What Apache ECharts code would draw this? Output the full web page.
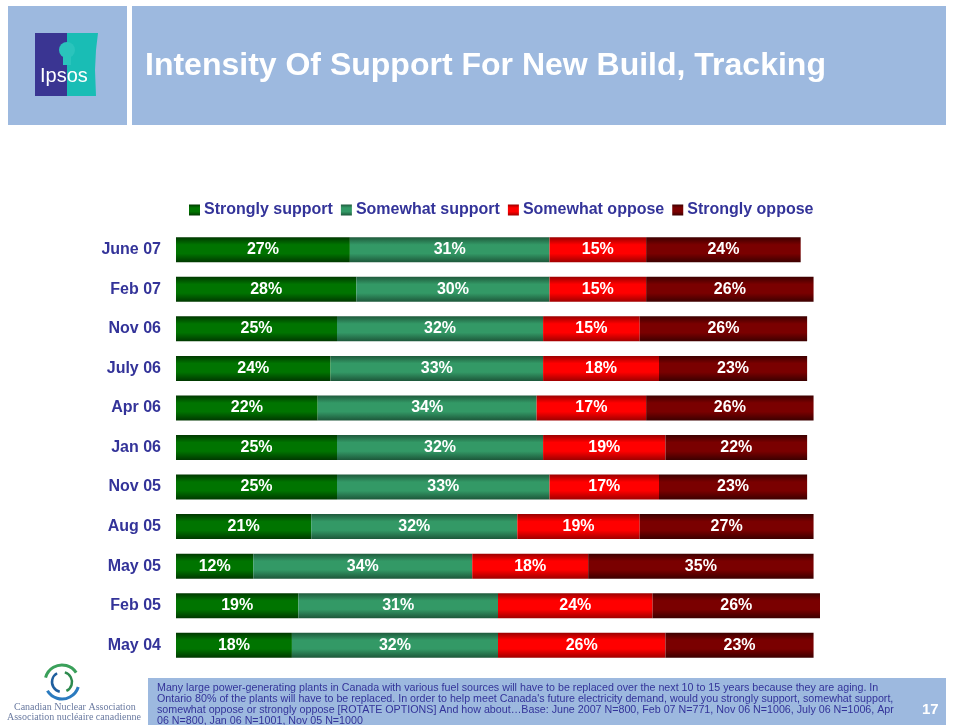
<!DOCTYPE html>
<html>
<head>
<meta charset="utf-8">
<script src="https://cdn.jsdelivr.net/npm/echarts@6/dist/echarts.min.js"></script>
<style>
  html, body { margin: 0; padding: 0; background: #fff; }
  #chart { width: 954px; height: 725px; }
</style>
</head>
<body>
<div id="chart"></div>
<script>
// survey waves, newest first
const waves = ['June 07', 'Feb 07', 'Nov 06', 'July 06', 'Apr 06', 'Jan 06', 'Nov 05', 'Aug 05', 'May 05', 'Feb 05', 'May 04'];
const stronglySupport = [27, 28, 25, 24, 22, 25, 25, 21, 12, 19, 18];
const somewhatSupport = [31, 30, 32, 33, 34, 32, 33, 32, 34, 31, 32];
const somewhatOppose = [15, 15, 15, 18, 17, 19, 17, 19, 18, 24, 26];
const stronglyOppose = [24, 26, 26, 23, 26, 22, 23, 27, 35, 26, 23];

const seriesNames = ['Strongly support', 'Somewhat support', 'Somewhat oppose', 'Strongly oppose'];

const footnote = [
  'Many large power-generating plants in Canada with various fuel sources will have to be replaced over the next 10 to 15 years because they are aging. In',
  'Ontario 80% of the plants will have to be replaced. In order to help meet Canada\'s future electricity demand, would you strongly support, somewhat support,',
  'somewhat oppose or strongly oppose [ROTATE OPTIONS] And how about\u2026Base: June 2007 N=800, Feb 07 N=771, Nov 06 N=1006, July 06 N=1006, Apr',
  '06 N=800, Jan 06 N=1001, Nov 05 N=1000'
];

const headerBlue = '#9DB9DF';
const textBlue = '#333399';
const font = '"Liberation Sans", Arial, sans-serif';

// vertical shading like the old PowerPoint bars
function shade(edgeTop, mid, edgeBottom) {
  return new echarts.graphic.LinearGradient(0, 0, 0, 1, [
    { offset: 0, color: edgeTop },
    { offset: 0.3, color: mid },
    { offset: 0.65, color: mid },
    { offset: 1, color: edgeBottom }
  ]);
}

const fills = [
  shade('#003800', '#007400', '#003800'),
  shade('#1f5a3c', '#339966', '#1d573a'),
  shade('#9a0000', '#ff0000', '#a00000'),
  shade('#3c0000', '#7a0000', '#3c0000')
];
const legendColors = ['#007000', '#2f8a5c', '#ee0000', '#700000'];

function makeSeries(name, values, i) {
  return {
    name: name,
    type: 'bar',
    stack: 'all',
    barWidth: 25,
    data: values,
    itemStyle: { color: fills[i] },
    label: {
      show: true,
      position: 'inside',
      formatter: '{c}%',
      color: '#fff',
      fontWeight: 'bold',
      fontSize: 16,
      fontFamily: font
    },
    emphasis: { disabled: true }
  };
}

const chart = echarts.init(document.getElementById('chart'));

const option = {
  animation: false,
  backgroundColor: '#fff',
  color: legendColors,
  legend: {
    top: 197,
    left: 184,
    itemWidth: 11,
    itemHeight: 11,
    itemGap: 8,
    icon: 'rect',
    textStyle: { color: textBlue, fontWeight: 'bold', fontSize: 16, fontFamily: font, padding: [0, 0, 0, -1] },
    data: seriesNames
  },
  grid: { left: 176, right: 134, top: 230, height: 435 },
  xAxis: { type: 'value', min: 0, max: 100, show: false },
  yAxis: {
    type: 'category',
    inverse: true,
    data: waves,
    axisLine: { show: false },
    axisTick: { show: false },
    axisLabel: { margin: 15, color: textBlue, fontWeight: 'bold', fontSize: 16, fontFamily: font }
  },
  series: [
    makeSeries(seriesNames[0], stronglySupport, 0),
    makeSeries(seriesNames[1], somewhatSupport, 1),
    makeSeries(seriesNames[2], somewhatOppose, 2),
    makeSeries(seriesNames[3], stronglyOppose, 3)
  ],
  graphic: [
    // header bands
    { type: 'rect', shape: { x: 8, y: 6, width: 119, height: 119 }, style: { fill: headerBlue } },
    { type: 'rect', shape: { x: 132, y: 6, width: 814, height: 119 }, style: { fill: headerBlue } },
    {
      type: 'text', left: 145, top: 50,
      style: { text: 'Intensity Of Support For New Build, Tracking', fill: '#fff', font: 'bold 32px ' + font }
    },
    // Ipsos logo
    { type: 'rect', shape: { x: 35, y: 33, width: 33, height: 63 }, style: { fill: '#3a3592' } },
    {
      type: 'polygon',
      shape: { points: [[67, 33], [98, 33], [96, 50], [95, 70], [96, 96], [67, 96]] },
      style: { fill: '#19bdb5' }
    },
    { type: 'circle', shape: { cx: 67, cy: 50, r: 8 }, style: { fill: '#2ac4bc' } },
    { type: 'rect', shape: { x: 63, y: 56, width: 8, height: 9 }, style: { fill: '#2ac4bc' } },
    {
      type: 'text', left: 40, top: 66,
      style: { text: 'Ipsos', fill: '#fff', font: '20px ' + font }
    },
    // Canadian Nuclear Association logo
    { type: 'arc', shape: { cx: 62, cy: 682, r: 17, startAngle: 0.3, endAngle: 2.6 }, style: { stroke: '#2b7bbf', lineWidth: 3, fill: 'none' } },
    { type: 'arc', shape: { cx: 62, cy: 682, r: 17, startAngle: 3.4, endAngle: 5.7 }, style: { stroke: '#3aa05a', lineWidth: 3, fill: 'none' } },
    { type: 'arc', shape: { cx: 62, cy: 682, r: 10, startAngle: 1.8, endAngle: 4.2 }, style: { stroke: '#1f5f9f', lineWidth: 2.5, fill: 'none' } },
    { type: 'arc', shape: { cx: 62, cy: 682, r: 10, startAngle: 5.0, endAngle: 7.4 }, style: { stroke: '#2d8a4e', lineWidth: 2.5, fill: 'none' } },
    {
      type: 'text', left: 14, top: 702,
      style: { text: 'Canadian Nuclear Association', fill: '#6a7aa0', font: '10px "Liberation Serif", serif' }
    },
    {
      type: 'text', left: 7, top: 712,
      style: { text: 'Association nucl\u00e9aire canadienne', fill: '#6a7aa0', font: '10px "Liberation Serif", serif' }
    },
    // footer band
    { type: 'rect', shape: { x: 148, y: 678, width: 798, height: 47 }, style: { fill: headerBlue } },
    {
      type: 'text', left: 157, top: 683,
      style: { text: footnote.join('\n'), fill: textBlue, font: '10.7px ' + font, lineHeight: 10.7 }
    },
    {
      type: 'text', left: 922, top: 702,
      style: { text: '17', fill: '#fff', font: 'bold 15px ' + font }
    }
  ]
};

chart.setOption(option);
</script>
</body>
</html>
